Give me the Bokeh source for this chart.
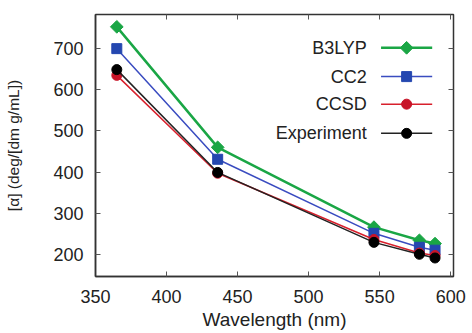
import math
from bokeh.plotting import figure
from bokeh.models import LinearAxis, Range1d, FixedTicker, Label
from bokeh.embed import file_html
from bokeh.resources import INLINE

wavelength = [365, 436, 546, 578, 589]
b3lyp = [753, 460, 266, 234, 226]
cc2 = [700, 431, 251, 217, 210]
ccsd = [635, 397, 236, 203, 197]
experiment = [649, 399, 229, 200, 191]
names = ["B3LYP", "CC2", "CCSD", "Experiment"]
x_ticks = [350, 400, 450, 500, 550, 600]
y_ticks = [200, 300, 400, 500, 600, 700]

FONT = "Liberation Sans"
p = figure(frame_width=358, frame_height=262, output_backend="svg", toolbar_location=None,
           x_range=Range1d(350, 602), y_range=Range1d(146, 783),
           min_border_left=95, min_border_right=17, min_border_top=14, min_border_bottom=55,
           x_axis_label="Wavelength (nm)", y_axis_label="[α] (deg/[dm g/mL])")
p.grid.visible = False
p.outline_line_color = "#333333"
p.outline_line_width = 1.5
p.background_fill_color = "white"
p.border_fill_color = "white"

for ax in p.xaxis:
    ax.ticker = FixedTicker(ticks=x_ticks)
for ax in p.yaxis:
    ax.ticker = FixedTicker(ticks=y_ticks)
for ax in p.xaxis + p.yaxis:
    ax.major_tick_in = 5
    ax.major_tick_out = 0
    ax.minor_tick_line_color = None
    ax.axis_line_color = "#333333"
    ax.axis_line_width = 1.5
    ax.major_tick_line_color = "#555555"
    ax.major_label_text_font = FONT
    ax.major_label_text_font_size = "18px"
    ax.major_label_text_color = "#222222"
    ax.axis_label_text_font = FONT
    ax.axis_label_text_font_style = "normal"
    ax.axis_label_text_color = "#222222"
p.xaxis.axis_label_text_font_size = "19px"
p.yaxis.axis_label_text_font_size = "15.5px"
p.xaxis.major_label_standoff = 13
p.xaxis.axis_label_standoff = 3
p.yaxis.major_label_standoff = 12
p.yaxis.axis_label_standoff = 28

top = LinearAxis(ticker=FixedTicker(ticks=x_ticks), major_label_text_font_size="0px",
                 major_tick_in=5, major_tick_out=0, minor_tick_line_color=None,
                 axis_line_color=None, major_tick_line_color="#555555",
                 major_label_standoff=0, axis_label_standoff=0)
right = LinearAxis(ticker=FixedTicker(ticks=y_ticks), major_label_text_font_size="0px",
                   major_tick_in=5, major_tick_out=0, minor_tick_line_color=None,
                   axis_line_color=None, major_tick_line_color="#555555",
                   major_label_standoff=0, axis_label_standoff=0)
p.add_layout(top, "above")
p.add_layout(right, "right")

series = [b3lyp, cc2, ccsd, experiment]
line_colors = ["#1aa645", "#3a4cc0", "#d8202c", "#222222"]
marker_colors = ["#1aa645", "#2447b0", "#c81428", "#000000"]
markers = ["square", "square", "circle", "circle"]
angles = [math.pi / 4, 0, 0, 0]
sizes = [9, 10, 10, 10]
widths = [2.5, 1.5, 1.5, 1.5]

for ys, lc, mc, mk, ang, sz, lw in zip(series, line_colors, marker_colors, markers, angles, sizes, widths):
    p.line(wavelength, ys, line_color=lc, line_width=lw)
    p.scatter(wavelength, ys, marker=mk, angle=ang, size=sz, fill_color=mc, line_color=mc)

# legend (label left of key), placed in the upper right of the frame
leg_y = [702, 632, 565, 494]
for name, yy, lc, mc, mk, ang, sz, lw in zip(names, leg_y, line_colors, marker_colors, markers, angles, sizes, widths):
    p.line([551, 587], [yy, yy], line_color=lc, line_width=lw)
    p.scatter([569], [yy], marker=mk, angle=ang, size=sz, fill_color=mc, line_color=mc)
    p.add_layout(Label(x=541, y=yy, text=name, text_align="right", text_baseline="middle",
                       text_font=FONT, text_font_size="18px", text_color="#222222"))

open("out.html", "w").write(file_html(p, INLINE))
